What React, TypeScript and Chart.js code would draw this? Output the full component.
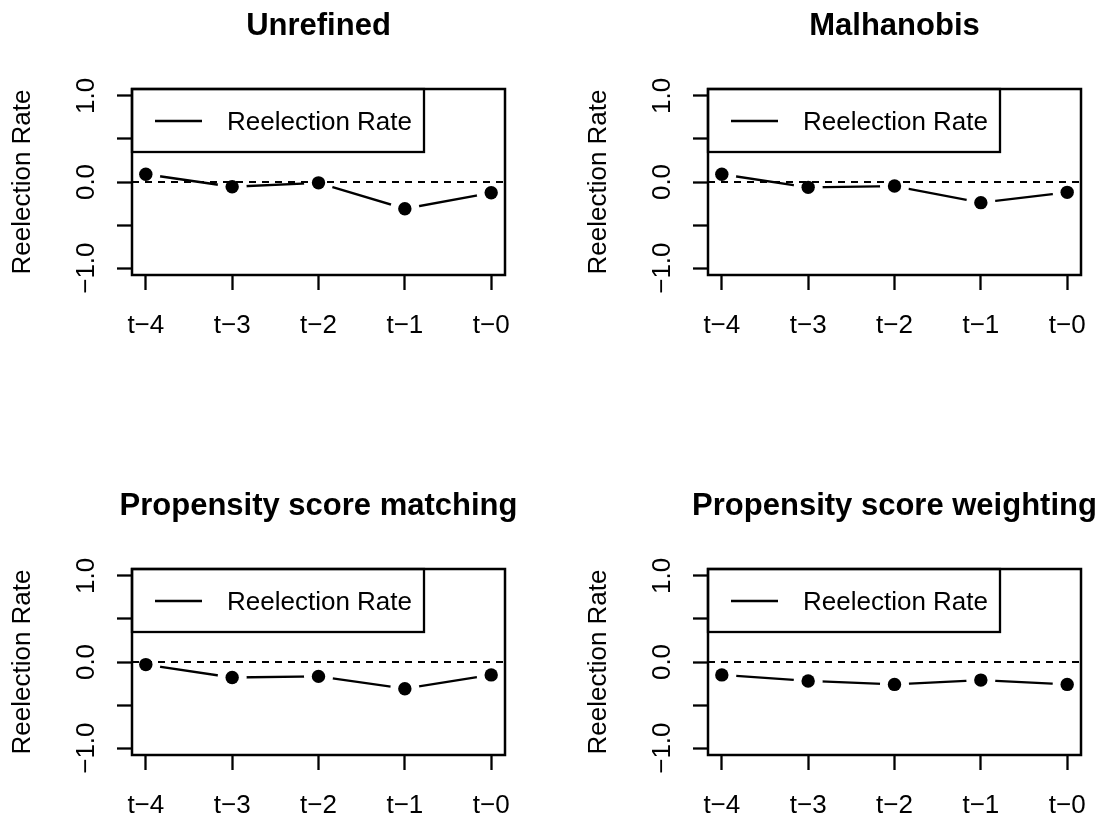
import { useEffect, useRef } from "react";
import { Chart, registerables } from "chart.js";

Chart.register(...registerables);

const FONT = "'Liberation Sans', Arial, Helvetica, sans-serif";

// data
const xValues = [1, 2, 3, 4, 5];
const xLabels = ["t−4", "t−3", "t−2", "t−1", "t−0"];
const yTickValues = [-1, -0.5, 0, 0.5, 1];
const yTickLabels: Record<string, string> = { "-1": "−1.0", "0": "0.0", "1": "1.0" };

const unrefined = [0.09, -0.055, -0.01, -0.31, -0.125];
const malhanobis = [0.09, -0.062, -0.047, -0.24, -0.12];
const psMatching = [-0.03, -0.18, -0.167, -0.31, -0.15];
const psWeighting = [-0.15, -0.22, -0.26, -0.21, -0.26];

const panelTitles = [
  "Unrefined",
  "Malhanobis",
  "Propensity score matching",
  "Propensity score weighting",
];
const seriesLabel = "Reelection Rate";
const yAxisTitle = "Reelection Rate";

// R-style axis ranges (4% extension)
const X_MIN = 0.84;
const X_MAX = 5.16;
const Y_MIN = -1.08;
const Y_MAX = 1.08;

const PANEL_H = 340;

// title, in-plot legend and box, the way base R draws them
const rDecor = {
  id: "rDecor",
  afterDraw(chart: any, _args: any, opts: any) {
    const { ctx, chartArea: a } = chart;
    ctx.save();
    ctx.fillStyle = "#fff";
    ctx.fillRect(a.left, a.top, 292, 63);
    ctx.strokeStyle = "#000";
    ctx.lineWidth = 2.3;
    ctx.strokeRect(a.left, a.top, 292, 63);
    ctx.beginPath();
    ctx.moveTo(a.left + 23, a.top + 32);
    ctx.lineTo(a.left + 70, a.top + 32);
    ctx.stroke();
    ctx.fillStyle = "#000";
    ctx.font = `26px ${FONT}`;
    ctx.textAlign = "left";
    ctx.textBaseline = "alphabetic";
    ctx.fillText(chart.data.datasets[0].label, a.left + 95, a.top + 41);

    ctx.lineWidth = 2.5;
    ctx.strokeRect(a.left, a.top, a.right - a.left, a.bottom - a.top);

    ctx.font = `bold 31px ${FONT}`;
    ctx.textAlign = "center";
    ctx.fillText(opts.text, (a.left + a.right) / 2, a.top - 54);
    ctx.restore();
  },
};

function Panel({ title, values, left, top, width }: { title: string; values: number[]; left: number; top: number; width: number }) {
  const ref = useRef<HTMLCanvasElement>(null);

  useEffect(() => {
    if (!ref.current) return;
    const pts = xValues.map((x, i) => ({ x, y: values[i] }));
    const tickGrid = {
      display: true,
      drawOnChartArea: false,
      drawTicks: true,
      tickLength: 15,
      tickWidth: 2.3,
      tickColor: "#000",
    };

    const chart = new Chart(ref.current, {
      type: "line",
      data: {
        datasets: [
          {
            label: seriesLabel,
            data: pts,
            borderColor: "#000",
            borderWidth: 2.3,
            pointRadius: 0,
            tension: 0,
            order: 4,
          },
          {
            // white halo so the segments stop short of the points (type = "b")
            label: "gap",
            data: pts,
            showLine: false,
            pointRadius: 14.5,
            pointBackgroundColor: "#fff",
            pointBorderWidth: 0,
            order: 3,
            clip: 0,
          },
          {
            label: "zero",
            data: [
              { x: X_MIN, y: 0 },
              { x: X_MAX, y: 0 },
            ],
            borderColor: "#000",
            borderWidth: 2.2,
            borderDash: [7, 6],
            pointRadius: 0,
            order: 2,
          },
          {
            label: "points",
            data: pts,
            showLine: false,
            pointRadius: 6.7,
            pointBackgroundColor: "#000",
            pointBorderWidth: 0,
            order: 1,
          },
        ],
      },
      options: {
        responsive: false,
        animation: false,
        events: [],
        layout: { padding: { left: 0, top: 89, right: width - 505, bottom: PANEL_H - 275 - 60 } },
        plugins: {
          legend: { display: false },
          tooltip: { enabled: false },
          rDecor: { text: title },
        } as any,
        scales: {
          x: {
            type: "linear",
            min: X_MIN,
            max: X_MAX,
            afterBuildTicks: (s: any) => {
              s.ticks = xValues.map((v) => ({ value: v }));
            },
            afterFit: (s: any) => {
              s.height = 60;
            },
            ticks: {
              autoSkip: false,
              maxRotation: 0,
              padding: 20,
              color: "#000",
              font: { size: 26, family: FONT },
              callback: (v: any) => xLabels[xValues.indexOf(Number(v))] ?? "",
            },
            grid: tickGrid,
            border: { display: false },
          },
          y: {
            type: "linear",
            min: Y_MIN,
            max: Y_MAX,
            afterBuildTicks: (s: any) => {
              s.ticks = yTickValues.map((v) => ({ value: v }));
            },
            afterFit: (s: any) => {
              s.width = 132;
            },
            ticks: {
              autoSkip: false,
              minRotation: 90,
              maxRotation: 90,
              crossAlign: "center",
              padding: 5,
              color: "#000",
              font: { size: 26, family: FONT },
              callback: (v: any) => yTickLabels[String(v)] ?? "",
            },
            grid: tickGrid,
            border: { display: false },
            title: {
              display: true,
              text: yAxisTitle,
              color: "#000",
              font: { size: 26, family: FONT, lineHeight: 1.2 },
              padding: { top: 7, bottom: 0 },
            },
          },
        },
      },
      plugins: [rDecor],
    });

    return () => chart.destroy();
  }, [title, values, width]);

  return (
    <canvas
      ref={ref}
      width={width}
      height={PANEL_H}
      style={{ position: "absolute", left, top, width, height: PANEL_H }}
    />
  );
}

export default function App() {
  return (
    <div style={{ position: "absolute", left: 0, top: 0, width: 1112, height: 820, background: "#fff" }}>
      <Panel title={panelTitles[0]} values={unrefined} left={0} top={0} width={576} />
      <Panel title={panelTitles[1]} values={malhanobis} left={576} top={0} width={536} />
      <Panel title={panelTitles[2]} values={psMatching} left={0} top={480} width={576} />
      <Panel title={panelTitles[3]} values={psWeighting} left={576} top={480} width={536} />
    </div>
  );
}
